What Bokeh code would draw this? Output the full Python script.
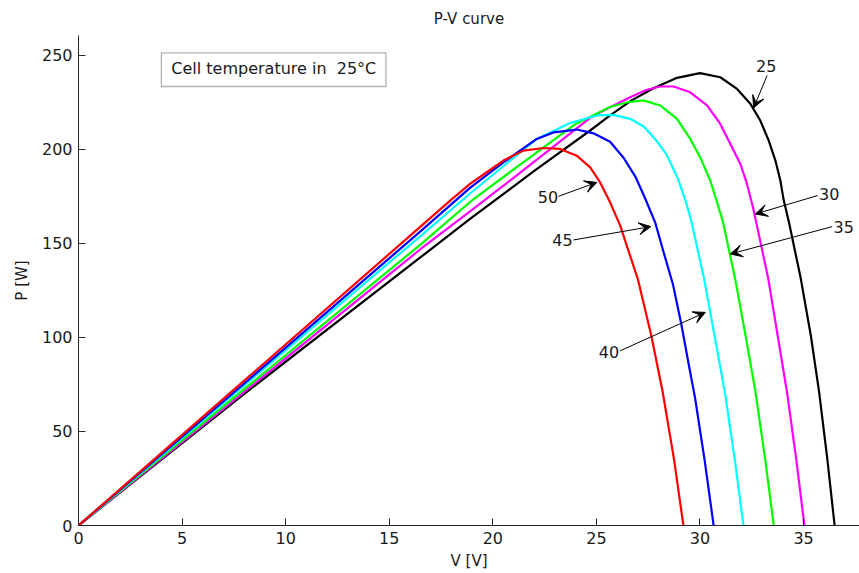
from bokeh.plotting import figure
from bokeh.models import Arrow, VeeHead, BoxAnnotation, Label, Range1d, FixedTicker
from bokeh.embed import file_html
from bokeh.resources import INLINE

# ---- data (V in volts, P in watts) ----
temps = ["25", "30", "35", "40", "45", "50"]
colors = ["black", "#ff00ff", "#00ff00", "#00ffff", "#0000ff", "#ff0000"]

v_25 = [0, 8, 16.5, 18.9, 22, 24.7, 25.66, 26.7, 27.76, 28.89, 30.0, 30.98, 31.79, 32.43, 32.91, 33.32,
        33.64, 33.88, 34.04, 34.3, 34.87, 35.35, 35.75, 36.15, 36.5]
p_25 = [0, 70, 142.5, 163, 188.5, 210, 218, 226, 232.5, 238, 240.5, 238.3, 232.1, 224.2, 215.3, 204.6,
        194, 183.4, 173, 161, 131, 101, 71, 35, 0]

v_30 = [0, 8, 16.52, 18.9, 21.2, 24.73, 25.66, 26.63, 27.4, 28.08, 28.72, 29.53, 30.34, 30.98, 31.46,
        31.95, 32.27, 32.56, 32.72, 33.3, 33.75, 34.2, 34.65, 35.04]
p_30 = [0, 71, 147, 167, 186.5, 217, 222.4, 227.7, 231.5, 233.4, 233.4, 230.3, 223.3, 213.5, 202.9,
        192.2, 181.6, 169.1, 161, 131, 101, 71, 35, 0]

v_35 = [0, 8, 16.52, 18.9, 20.84, 23.93, 25.66, 26.5, 27.27, 28.08, 28.89, 29.53, 30.01, 30.5, 30.9,
        31.12, 31.7, 32.2, 32.68, 33.15, 33.56]
p_35 = [0, 72.5, 149.5, 172, 188, 213, 222.5, 225, 226, 223.3, 216.2, 205.5, 195.7, 183.3, 169.1,
        161, 131, 101, 71, 35, 0]

v_40 = [0, 8, 16.52, 18.9, 20.5, 22.12, 23.73, 25.02, 25.82, 26.63, 27.3, 27.9, 28.4, 28.95, 29.35,
        29.6, 30.2, 30.7, 31.2, 31.68, 32.1]
p_40 = [0, 74.5, 154, 176.5, 191, 205.5, 214, 218, 218.3, 216.2, 212, 204.5, 197, 184, 171,
        161, 131, 101, 71, 35, 0]

v_45 = [0, 8, 16.52, 18.9, 20.51, 22.12, 22.93, 24.05, 24.86, 25.66, 26.31, 26.88, 27.35, 27.84, 28.2,
        28.7, 29.1, 29.45, 29.76, 30.22, 30.66]
p_45 = [0, 75.5, 156.5, 179.5, 193, 205.5, 209, 210.5, 208.5, 204, 195.5, 185.5, 174, 161, 147,
        128, 107, 86, 68, 35, 0]

v_50 = [0, 8, 16.52, 17.97, 18.9, 19.6, 20.51, 21.47, 22.44, 23.25, 24.05, 24.7, 25.18, 25.66, 26.15,
        26.47, 27.0, 27.65, 28.2, 28.75, 29.2]
p_50 = [0, 77, 159, 173, 181.6, 187, 194, 199.3, 200.7, 200.2, 196.6, 190.4, 182.4, 171.8, 159.4,
        148.7, 131, 101, 71, 35, 0]

x_ticks = [0, 5, 10, 15, 20, 25, 30, 35]
y_ticks = [0, 50, 100, 150, 200, 250]

FONT = "DejaVu Sans"
TXT = "#1a1a1a"

p = figure(width=859, height=573, output_backend="svg", toolbar_location=None,
           x_range=Range1d(0, 37.7), y_range=Range1d(0, 260.5),
           min_border_left=78, min_border_right=0, min_border_top=35, min_border_bottom=48,
           title="P-V curve")
p.title.align = "center"
p.title.text_font = FONT
p.title.text_font_size = "15px"
p.title.text_font_style = "normal"
p.title.text_color = TXT
p.title.standoff = 15
p.outline_line_color = None
p.grid.visible = False
p.background_fill_color = "white"
p.border_fill_color = "white"

for ax in (p.xaxis[0], p.yaxis[0]):
    ax.major_tick_in = 7
    ax.major_tick_out = 0
    ax.minor_tick_line_color = None
    ax.axis_line_color = "#262626"
    ax.major_tick_line_color = "#262626"
    ax.major_label_text_font = FONT
    ax.major_label_text_font_size = "16px"
    ax.major_label_text_color = TXT
    ax.axis_label_text_font = FONT
    ax.axis_label_text_font_size = "15px"
    ax.axis_label_text_font_style = "normal"
    ax.axis_label_text_color = TXT
    ax.major_label_standoff = 6

p.xaxis.ticker = FixedTicker(ticks=x_ticks)
p.yaxis.ticker = FixedTicker(ticks=y_ticks)
p.xaxis.axis_label = "V [V]"
p.yaxis.axis_label = "P [W]"
p.xaxis.axis_label_standoff = 5
p.yaxis.axis_label_standoff = 8

curves = [(v_25, p_25), (v_30, p_30), (v_35, p_35), (v_40, p_40), (v_45, p_45), (v_50, p_50)]
for (vv, pp), c in zip(curves, colors):
    p.line(vv, pp, line_color=c, line_width=2.2, line_join="round")

# text box
p.add_layout(BoxAnnotation(left=4.0, right=14.84, bottom=233.4, top=251.3,
                           fill_color="white", fill_alpha=1.0,
                           line_color="black", line_width=1.3))
p.add_layout(Label(x=4.48, y=243.1, text="Cell temperature in\u00a0 25\u00b0C",
                   text_font=FONT, text_font_size="16px", text_color=TXT,
                   text_baseline="middle", text_align="left"))

# annotation arrows: (label, text x, text y, align, start x, start y, end x, end y)
anns = [
    ("25", 33.2, 244.2, "center", 33.24, 239.2, 32.59, 222.0),
    ("30", 35.75, 176.3, "left", 35.68, 175.4, 32.67, 165.6),
    ("35", 36.45, 158.5, "left", 36.38, 158.9, 31.46, 144.3),
    ("40", 26.1, 92.0, "right", 26.15, 92.9, 30.26, 113.3),
    ("45", 23.85, 151.8, "right", 23.89, 151.8, 27.63, 158.9),
    ("50", 23.15, 174.8, "right", 23.17, 175.0, 25.02, 182.4),
]
for t, tx, ty, al, xs, ys, xe, ye in anns:
    p.add_layout(Arrow(end=VeeHead(size=12, fill_color="black", line_color="black", line_width=1),
                       x_start=xs, y_start=ys, x_end=xe, y_end=ye,
                       line_color="black", line_width=1))
    p.add_layout(Label(x=tx, y=ty, text=t, text_font=FONT, text_font_size="16px",
                       text_color=TXT, text_align=al, text_baseline="middle"))

open("out.html", "w").write(file_html(p, INLINE))
